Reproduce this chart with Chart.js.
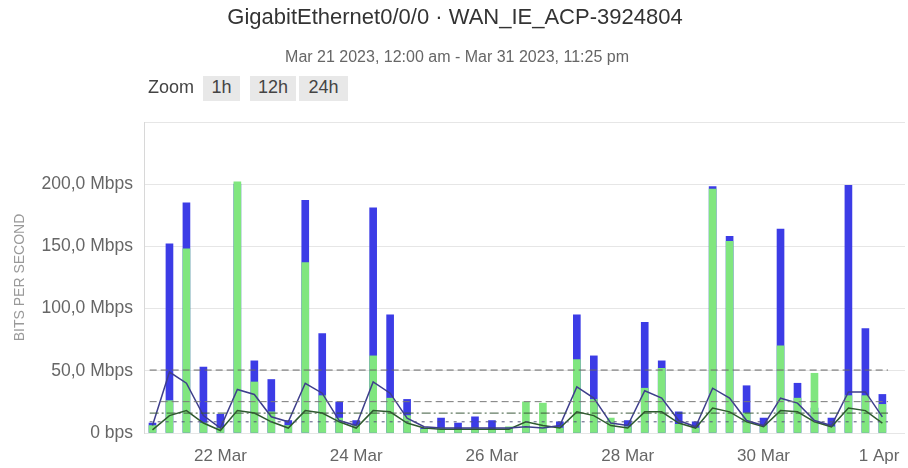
<!DOCTYPE html>
<html>
<head>
<meta charset="utf-8">
<script src="https://cdn.jsdelivr.net/npm/chart.js@4.4.0/dist/chart.umd.min.js"></script>
<style>
  body { margin: 0; background: #fff; font-family: "Liberation Sans", Arial, sans-serif; }
  #wrap { position: relative; width: 908px; height: 468px; overflow: hidden; }
  #myChart { position: absolute; left: 0; top: 0; }
  .title { position: absolute; left: 0; top: 4px; width: 910px; text-align: center; color: #333; font-size: 22px; line-height: 26px; }
  .subtitle { position: absolute; left: 0; top: 47px; width: 914px; text-align: center; color: #666; font-size: 16px; line-height: 20px; }
  .zoom { position: absolute; top: 76px; height: 25px; line-height: 23px; font-size: 18px; color: #444; text-align: center; }
  .btn { background: #e8e8e8; }
</style>
</head>
<body>
<div id="wrap">
  <canvas id="myChart" width="908" height="468"></canvas>
  <div class="title">GigabitEthernet0/0/0 · WAN_IE_ACP-3924804</div>
  <div class="subtitle">Mar 21 2023, 12:00 am - Mar 31 2023, 11:25 pm</div>
  <div class="zoom" style="left:145px;width:52px;">Zoom</div>
  <div class="zoom btn" style="left:203px;width:37px;">1h</div>
  <div class="zoom btn" style="left:250px;width:46px;">12h</div>
  <div class="zoom btn" style="left:299px;width:49px;">24h</div>
</div>
<script>
// Start of each 6 hour bucket, in hours since Mar 21 2023 00:00
const bucketHours = [0, 6, 12, 18, 24, 30, 36, 42, 48, 54, 60, 66, 72, 78, 84, 90, 96, 102, 108, 114, 120, 126,
  132, 138, 144, 150, 156, 162, 168, 174, 180, 186, 192, 198, 204, 210, 216, 222, 228, 234, 240, 246, 252, 258];

// Traffic per bucket, Mbps
const inMbps = [8, 152, 185, 53, 15, 200, 58, 43, 10, 187, 80, 25, 10, 181, 95, 27, 4, 12, 8, 13, 10, 4,
  6, 6, 9, 95, 62, 8, 10, 89, 58, 17, 9, 198, 158, 38, 12, 164, 40, 20, 12, 199, 84, 31];
const outMbps = [6, 26, 148, 8, 4, 202, 41, 17, 6, 137, 30, 12, 6, 62, 28, 14, 3, 4, 3, 4, 3, 5,
  25, 24, 4, 59, 27, 12, 5, 36, 52, 7, 4, 196, 154, 16, 6, 70, 28, 48, 5, 30, 30, 23];

// Average traffic lines, Mbps
const inAvgMbps = [6, 49, 40, 14, 4, 35, 31, 13, 9, 40, 32, 10, 6, 41, 32, 12, 5, 4, 4, 4, 4, 4,
  5, 4, 6, 37, 28, 8, 6, 34, 28, 10, 5, 36, 28, 10, 6, 28, 24, 10, 6, 33, 33, 13];
const outAvgMbps = [2.5, 14, 18, 8, 2, 18, 16, 9, 4, 18, 16, 9, 4, 18, 17, 8, 4, 3, 3, 3, 3, 3,
  9, 6, 4, 17, 14, 6, 4, 17, 17, 8, 4, 20, 17, 9, 5, 18, 17, 9, 5, 20, 18, 8];

// Horizontal reference lines (95th in, 95th out, avg in, avg out), Mbps
const refLineMbps = [50.6, 25.2, 16, 9];
const refLineHours = [-1, 260];

// X axis labels
const tickHours = [-3, 24, 72, 120, 168, 216, 264];
const tickLabels = ['', '22 Mar', '24 Mar', '26 Mar', '28 Mar', '30 Mar', '1 Apr'];

const toPoints = (vals) => vals.map((v, i) => ({ x: bucketHours[i], y: v }));

const refStyles = [
  { color: '#666666', dash: [7, 4] },
  { color: '#7a7a7a', dash: [7, 4] },
  { color: '#3c5a3c', dash: [9, 3, 2, 3] },
  { color: '#55557a', dash: [3, 5] }
];

const refSets = refLineMbps.map((v, i) => ({
  type: 'line',
  data: refLineHours.map(h => ({ x: h, y: v })),
  borderColor: refStyles[i].color,
  borderDash: refStyles[i].dash,
  borderWidth: 1,
  pointRadius: 0,
  order: 1
}));

Chart.defaults.font.family = '"Liberation Sans", Arial, sans-serif';

const data = {
  datasets: [
    {
      type: 'bar',
      label: 'In',
      data: toPoints(inMbps),
      backgroundColor: '#3c3ce6',
      barThickness: 7,
      grouped: false,
      order: 4
    },
    {
      type: 'bar',
      label: 'Out',
      data: toPoints(outMbps),
      backgroundColor: '#80e67f',
      barThickness: 7,
      grouped: false,
      order: 3
    },
    {
      type: 'line',
      label: 'Avg In',
      data: toPoints(inAvgMbps),
      borderColor: '#3e3e8c',
      borderWidth: 1.5,
      pointRadius: 0,
      tension: 0,
      order: 2
    },
    {
      type: 'line',
      label: 'Avg Out',
      data: toPoints(outAvgMbps),
      borderColor: '#2f5a2f',
      borderWidth: 1.5,
      pointRadius: 0,
      tension: 0,
      order: 2
    },
    ...refSets
  ]
};

const config = {
  type: 'bar',
  data: data,
  options: {
    responsive: false,
    animation: false,
    devicePixelRatio: 1,
    layout: { padding: { left: 0, right: 3, top: 122, bottom: 0 } },
    plugins: {
      legend: { display: false },
      tooltip: { enabled: false }
    },
    scales: {
      x: {
        type: 'linear',
        min: -3,
        max: 266,
        offset: false,
        grid: { display: false, offset: false },
        border: { display: false },
        afterBuildTicks: (axis) => { axis.ticks = tickHours.map(v => ({ value: v })); },
        afterFit: (axis) => { axis.height = 35; },
        ticks: {
          align: 'inner',
          autoSkip: false,
          maxRotation: 0,
          padding: 0,
          color: '#666',
          font: { size: 17, lineHeight: 1.8 },
          callback: (v) => tickLabels[tickHours.indexOf(v)]
        }
      },
      y: {
        min: 0,
        max: 250,
        afterFit: (axis) => { axis.width = 144; },
        grid: { color: '#e6e6e6', drawTicks: false },
        border: { display: true, color: '#d8d8d8' },
        title: {
          display: true,
          text: 'BITS PER SECOND',
          color: '#999',
          font: { size: 14 },
          padding: { top: 12, bottom: 0 }
        },
        ticks: {
          stepSize: 50,
          padding: 11,
          color: '#666',
          font: { size: 17.5 },
          callback: (v) => v === 0 ? '0 bps' : (v >= 250 ? '' : v.toFixed(1).replace('.', ',') + ' Mbps')
        }
      }
    }
  }
};

const ctx = document.getElementById('myChart');
new Chart(ctx, config);
</script>
</body>
</html>
